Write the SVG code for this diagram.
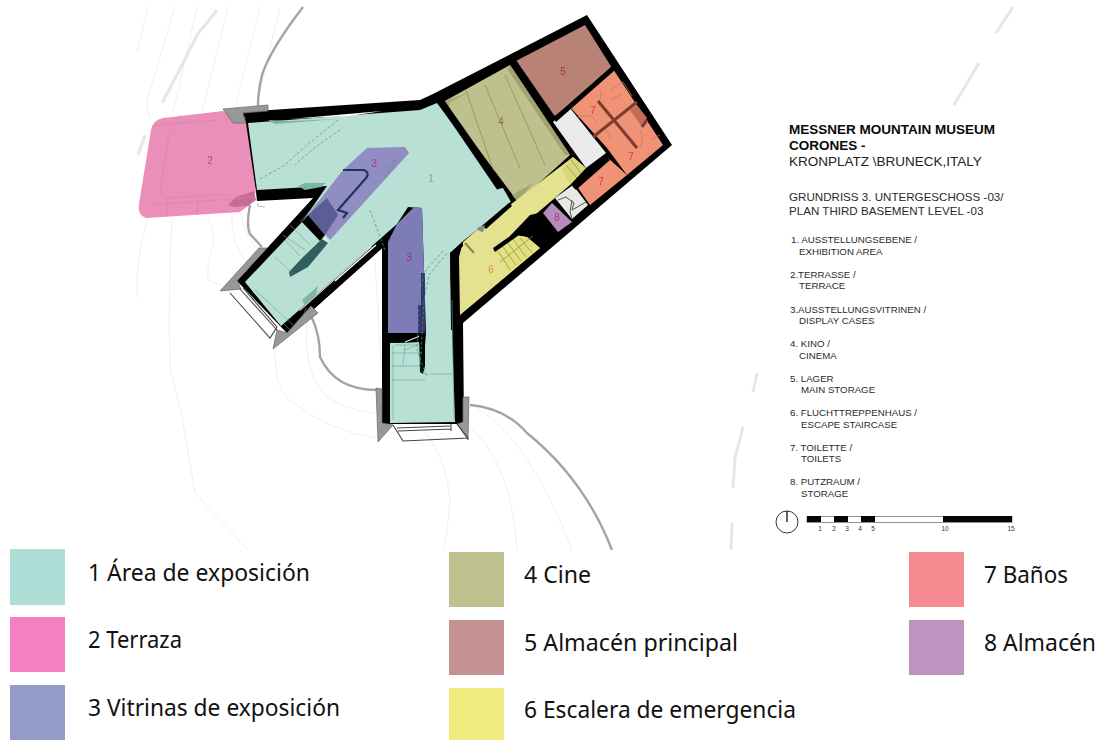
<svg xmlns="http://www.w3.org/2000/svg" width="1100" height="740" viewBox="0 0 1100 740">
<style>
.c{fill:none;stroke:#efefef;stroke-width:1}
.d{fill:none;stroke:#e6e6e6;stroke-width:3}
.g{fill:none;stroke:#a4a4a4;stroke-width:2.4}
.w{fill:#989898;stroke:#666;stroke-width:.7}
.k{fill:#050505}
.s{fill:none;stroke:#5e9f90;stroke-width:.7;opacity:.8}
.q{fill:none;stroke:#4d8f82;stroke-width:.7;stroke-dasharray:3 2}
.y{fill:none;stroke:#8e8d45;stroke-width:.7}
.r{fill:none;stroke:#c8775f;stroke-width:.7}
.b{fill:none;stroke:#444;stroke-width:1.1}
.n{font:10px "Liberation Sans",Arial,sans-serif;text-anchor:middle}
.t{font:13.5px "Liberation Sans",Arial,sans-serif;fill:#222}
.h{font-weight:bold;fill:#0a0a0a}
.u{font:11.6px "Liberation Sans",Arial,sans-serif;fill:#2a2a2a}
.i{font:9.7px "Liberation Sans",Arial,sans-serif;fill:#2a2a2a}
.l{font:23.5px "Noto Sans","Open Sans",sans-serif;fill:#111}
.m{font:6.5px "Liberation Sans",Arial,sans-serif;fill:#333;text-anchor:middle}
</style>
<defs><filter id="soft" x="-5%" y="-5%" width="110%" height="110%"><feGaussianBlur stdDeviation=".45"/></filter></defs>

<g id="site">
<path class="c" d="M148 7 L137 52"/>
<path class="c" d="M175 7 L147 100 Q146 110 150 118"/>
<path class="c" d="M197 7 L173 113"/>
<path class="c" d="M228 7 L202 112"/>
<path class="c" d="M260 7 L235 107"/>
<path class="c" d="M280 7 L257 103"/>
<path class="c" d="M148 218 Q135 260 137 297"/>
<path class="c" d="M172 218 Q168 290 170 367 L182 417 L195 493 L248 550"/>
<path class="c" d="M208 217 Q215 235 213 245 Q206 272 208 280 L220 285"/>
<path class="c" d="M232 213 Q230 240 245 260"/>
<path class="c" d="M240 207 Q241 230 258 250"/>
<path class="c" d="M275 350 Q275 390 290 400 Q330 432 376 438"/>
<path class="c" d="M307 323 Q303 370 325 395 Q345 410 374 413"/>
<path class="c" d="M470 427 Q512 465 517 550"/>
<path class="c" d="M477 408 Q530 440 572 550"/>
<path class="c" d="M425 432 Q447 460 450 500 Q448 530 443 550"/>
<path class="c" d="M375 260 L381 365"/>
<path class="d" d="M217 10 L197 35 Q185 60 162 103"/>
<path class="d" d="M145 135 L138 155"/>
<path class="d" d="M1013 7 L996 33"/>
<path class="d" d="M979 63 L954 105"/>
<path class="d" d="M757 373 L753 392"/>
<path class="d" d="M743 427 L735 458 L733 488"/>
<path class="d" d="M732 523 L731 550"/>
<path class="g" d="M303 7 Q270 50 262 75 Q258 92 258 106"/>
<path class="g" d="M250 205 Q246 225 250 234 L262 247"/>
<path class="g" d="M312 318 Q320 335 320 357 Q335 390 377 390"/>
<path class="g" d="M470 405 Q505 408 527 433 Q585 480 612 550"/>
</g>

<g id="plan" filter="url(#soft)">
<path id="walls" class="k" d="M242 112 L420 100 L433 94 L587 15 L672 145 L463 323 L464 424 L382 424 L382 248 L287 333 L282 328 L237 281 L313 198 L257 201 L256 192 Z"/>

<path id="room1" fill="#b9e0d4" d="M248 123 L420 110 L437 103 L510 202 L477 230 L463 241 L450 253 L452 330 L455 422 L390 423 L390 343 L420 342 L423 372 L426 333 L422 208 L408 207 L397 224 L281 326 L245 282 L302 222 L327 186 L257 190Z"/>
<path d="M300 311 L372 247" stroke="#fff" stroke-width="1.8" fill="none"/>
<path class="k" d="M283 326 L392 229 L397 226 L399 232 L388 243 L287 333Z"/>
<path d="M335 281 L376 245" stroke="#fff" stroke-width="1.4" fill="none"/>
<path d="M290 119 L382 111 L350 116Z" fill="#fff"/>
<path id="room2" fill="#ea8fb9" d="M163 118 L223 111 L246 123 L256 192 L248 206 L240 212 L146 218 Q137 215 139 204 L151 130 Q153 120 163 118Z"/>
<path fill="#c46d96" d="M228 205 L236 197 L254 191 L256 200 L248 206 L234 207Z"/>
<path class="s" style="stroke:#d57fa6" d="M173 130 Q169 131 168 140 L160 190 Q159 198 168 198 L228 194 M155 125 L246 118 M150 205 L255 197 M180 115 L178 125 M230 109 L240 125 M167 198 L167 217 M198 198 L197 215"/>

<path id="room3a" fill="#8f8dc2" d="M367 148 L405 147 L409 153 L330 240 L308 215 L343 170Z"/>
<path fill="#5c5c96" d="M308 215 L327 198 L338 215 L325 235Z"/>
<path class="k" d="M302 222 L308 215 L325 235 L320 241Z"/>
<path id="room3b" fill="#7e7cb7" d="M397 224 L414 207 L422 208 L424 272 L425 333 L388 333 L388 242 Z"/>
<path fill="#34356f" d="M421 273 L425 273 L425 333 L418 333 L418 305 L421 305Z"/>
<path fill="#d9e8e5" d="M325 237 L330 241 L327 243 L322 240Z"/>
<path fill="#2d5f5d" d="M322 239 L328 243 L308 267 L290 277 L289 272 L303 257Z"/>
<path fill="none" stroke="#23315f" stroke-width="2.2" d="M343 170 L364 170 Q369 172 367 177 L338 210 L347 213 L343 218"/>
<path class="k" d="M388 334 L420 334 L420 342 L388 343Z"/>
<path d="M405 342 L420 336" stroke="#fff" stroke-width="1" fill="none"/>
<path class="k" d="M419 335 L425 335 L425 366 L423 374 L420 372Z"/>
<path fill="#7cb4a5" d="M298 186 L305 183 L326 183 L321 187 L305 190Z M268 120 L275 124 L338 119 L290 121Z"/>
<path fill="#80b5a8" d="M302 300 L318 286 L316 295 L305 305Z"/>

<path id="room4" fill="#bec08d" d="M443 102 L510 65 L570 155 L518 202 Z"/>
<path fill="#a0a56f" d="M443 102 L470 92 L450 102 L448 110Z M510 65 L570 155 L565 155 L508 70Z M518 202 L512 195 L535 182 L530 186Z"/>
<path class="y" d="M466 90 L495 175 M485 85 L520 168 M505 75 L545 165"/>
<path id="room5" fill="#b88277" d="M514 62 L585 25 L612 68 L567 107 L553 117Z"/>
<path id="roomCorridor" fill="#ebebeb" d="M553 122 L565 110 L570 108 L606 153 L586 168Z"/>
<path id="room7a" fill="#ef9275" d="M570 107 L613 69 L663 145 L627 175 L607 148Z"/>
<path id="room7b" fill="#ef9275" d="M576 185 L608 158 L627 175 L590 205Z"/>
<path fill="#c46c57" d="M637 105 L647 118 L642 127 L630 110Z"/>
<path fill="none" stroke="#7f3a30" stroke-width="3" d="M598 101 L637 148 M593 137 L637 102 M642 127 L647 120"/>
<path class="r" d="M600 90 Q603 100 598 100 M610 90 L623 82 L632 96 M577 118 Q590 112 597 122 M605 130 Q612 132 609 140 M640 130 Q645 138 640 147 M650 140 L660 135 M610 100 L622 94"/>
<path id="room6" fill="#e4e28f" d="M460 315 L459 257 L463 242 L477 230 L573 157 L586 168 L570 185 L493 251 L515 235 L527 237 L540 248Z"/>
<path fill="#d9d77a" d="M562 170 L573 157 L585 168 L570 185Z"/>
<path class="k" d="M510 236 L530 215 L543 212 L558 232 L540 248 L527 237 L515 235Z"/>
<path fill="#e2e081" d="M495 252 L515 235 L527 237 L540 248 L508 272Z"/>
<path class="y" d="M498 251 L510 270 M503 247 L516 265 M508 243 L521 261 M513 239 L526 257 M520 238 L532 253 M500 262 L533 236 M566 165 L577 178 M571 160 L581 173"/>
<path class="k" d="M493 248 L516 232 L519 235 L495 252Z"/>
<path fill="#e9e9e6" d="M555 198 L573 185 L588 205 L572 219Z"/>
<path fill="none" stroke="#555" stroke-width="1" d="M558 200 L566 197 L574 203 L572 210 L586 202 M572 200 L570 212 L572 218"/>
<path id="room8" fill="#b88bbd" d="M552 203 L572 222 L558 232 L543 213Z"/>
<path class="k" d="M436 100 L442 97 L503 184 L498 191Z"/>
<path class="k" d="M510 60 L516 60 L556 118 L551 122Z"/>
<path class="k" d="M553 118 L612 66 L615 70 L556 122Z"/>
<path class="k" d="M572 186 L606 156 L610 160 L576 190Z"/>
<path class="k" d="M482 226 L510 203 L512 206 L486 229Z"/>
<path fill="#b9e0d4" d="M495 190 L503 188 L511 202 L503 204Z"/>
<path fill="#8c8c8c" d="M477 228 L485 225 L483 232 L479 231Z"/>
<path d="M465 243 L474 253" stroke="#8a8650" stroke-width="2" fill="none"/>
<path class="k" d="M450 253 L463 242 L463 246 L456 253 L457 330 L451 330Z"/>

<path class="s" d="M395 345 L418 345 M392 353 L422 353 M392 366 L420 366 M392 380 L425 380 M430 374 L452 374 M393 345 L393 420 M452 300 L454 420 M300 222 L318 202 M283 235 L305 250 M290 225 L310 245 M285 240 L300 256 M275 257 L293 274 M302 320 L306 308 M255 290 L293 325 M283 323 L290 330 M418 345 L405 350 M405 345 L403 365"/>
<path class="q" d="M338 120 Q300 150 285 165 L258 180 M340 130 Q310 150 295 165 M428 375 L420 370 L424 300 L429 275 L448 252 M426 375 L417 350 L420 290 L426 270 L444 250"/>
<path class="q" d="M395 160 L380 173 M398 158 L385 178 M370 210 L385 250"/>

<path class="w" d="M223 109 L268 105 L268 111 L243 113 L246 123 L233 123Z"/>
<path class="w" d="M259 248 L220 291 L241 289 L237 280 L267 248Z"/>
<path class="w" d="M311 306 L318 313 L273 349 L277 330 L287 333Z"/>
<path class="w" d="M376 388 L382 389 L382 423 L393 425 L378 442Z"/>
<path class="w" d="M463 397 L469 397 L468 440 L457 424 L463 422Z"/>
<path class="b" d="M230 293 L270 338 L277 327 L243 288"/>
<path class="b" d="M240 289 L277 330"/>
<path class="b" d="M393 425 L403 441 L468 438 L457 424 M397 428 L450 426 M398 431 L451 429 M451 424 L451 431"/>
<path class="b" d="M258 203 L258 206 L265 207" style="stroke:#bbb"/>

<text class="n" x="210" y="164" fill="#d93a70">2</text>
<text class="n" x="374" y="167" fill="#a83a86">3</text>
<text class="n" x="431" y="182" fill="#8d9c8e">1</text>
<text class="n" x="409" y="261" fill="#9c2f7f">3</text>
<text class="n" x="501" y="125" fill="#a26a42">4</text>
<text class="n" x="563" y="75" fill="#a8323f">5</text>
<text class="n" x="593" y="114" fill="#df3a3a">7</text>
<text class="n" x="631" y="160" fill="#df3a3a">7</text>
<text class="n" x="601" y="185" fill="#df3a3a">7</text>
<text class="n" x="557" y="221" fill="#a83a86">8</text>
<text class="n" x="491" y="273" fill="#dd902e">6</text>
</g>

<g id="title">
<text class="t h" x="789" y="134">MESSNER MOUNTAIN MUSEUM</text>
<text class="t h" x="789" y="150">CORONES -</text>
<text class="t" x="789" y="166">KRONPLATZ \BRUNECK,ITALY</text>
<text class="u" x="789" y="201">GRUNDRISS 3. UNTERGESCHOSS -03/</text>
<text class="u" x="789" y="215">PLAN THIRD BASEMENT LEVEL -03</text>
</g>
<g id="key">
<text class="i" x="791" y="243">1. AUSSTELLUNGSEBENE /</text>
<text class="i" x="799" y="255">EXHIBITION AREA</text>
<text class="i" x="790" y="278">2.TERRASSE /</text>
<text class="i" x="799" y="289">TERRACE</text>
<text class="i" x="790" y="313">3.AUSSTELLUNGSVITRINEN /</text>
<text class="i" x="799" y="324">DISPLAY CASES</text>
<text class="i" x="790" y="347">4. KINO /</text>
<text class="i" x="799" y="359">CINEMA</text>
<text class="i" x="790" y="382">5. LAGER</text>
<text class="i" x="801" y="393">MAIN STORAGE</text>
<text class="i" x="790" y="416">6. FLUCHTTREPPENHAUS /</text>
<text class="i" x="801" y="428">ESCAPE STAIRCASE</text>
<text class="i" x="790" y="451">7. TOILETTE /</text>
<text class="i" x="801" y="462">TOILETS</text>
<text class="i" x="790" y="485">8. PUTZRAUM /</text>
<text class="i" x="801" y="497">STORAGE</text>
</g>
<g id="scale">
<circle cx="787" cy="522" r="11" fill="#fff" stroke="#333" stroke-width="1"/>
<path d="M787 511 V522" stroke="#222" stroke-width="1.4"/>
<rect x="807" y="516.5" width="205" height="6" fill="#fff" stroke="#777" stroke-width=".8"/>
<path class="k" d="M807 516h14v6h-14zM834 516h14v6h-14zM861 516h14v6h-14zM943 516h69v6h-69z"/>
<text class="m" x="820" y="531">1</text><text class="m" x="834" y="531">2</text><text class="m" x="847" y="531">3</text><text class="m" x="860" y="531">4</text><text class="m" x="873" y="531">5</text><text class="m" x="945" y="531">10</text><text class="m" x="1011" y="531">15</text>
</g>

<g id="legend">
<rect width="1100" height="190" y="550" fill="#fff"/>
<g id="leg1"><rect x="10" y="549" width="55" height="56" fill="#aedfd6"/><text class="l" x="88" y="581" textLength="222" lengthAdjust="spacingAndGlyphs">1 Área de exposición</text></g>
<g id="leg2"><rect x="10" y="617" width="55" height="55" fill="#f480bf"/><text class="l" x="88" y="648" textLength="94" lengthAdjust="spacingAndGlyphs">2 Terraza</text></g>
<g id="leg3"><rect x="10" y="685" width="55" height="55" fill="#939bc6"/><text class="l" x="88" y="716" textLength="252" lengthAdjust="spacingAndGlyphs">3 Vitrinas de exposición</text></g>
<g id="leg4"><rect x="449" y="552" width="55" height="55" fill="#bfc290"/><text class="l" x="524" y="583" textLength="67" lengthAdjust="spacingAndGlyphs">4 Cine</text></g>
<g id="leg5"><rect x="449" y="620" width="55" height="55" fill="#c29190"/><text class="l" x="524" y="651" textLength="214" lengthAdjust="spacingAndGlyphs">5 Almacén principal</text></g>
<g id="leg6"><rect x="449" y="688" width="55" height="52" fill="#efeb7f"/><text class="l" x="524" y="718" textLength="272" lengthAdjust="spacingAndGlyphs">6 Escalera de emergencia</text></g>
<g id="leg7"><rect x="909" y="552" width="55" height="55" fill="#f48b91"/><text class="l" x="984" y="583" textLength="84" lengthAdjust="spacingAndGlyphs">7 Baños</text></g>
<g id="leg8"><rect x="909" y="620" width="55" height="55" fill="#c092bf"/><text class="l" x="984" y="651" textLength="112" lengthAdjust="spacingAndGlyphs">8 Almacén</text></g>
</g>
</svg>
